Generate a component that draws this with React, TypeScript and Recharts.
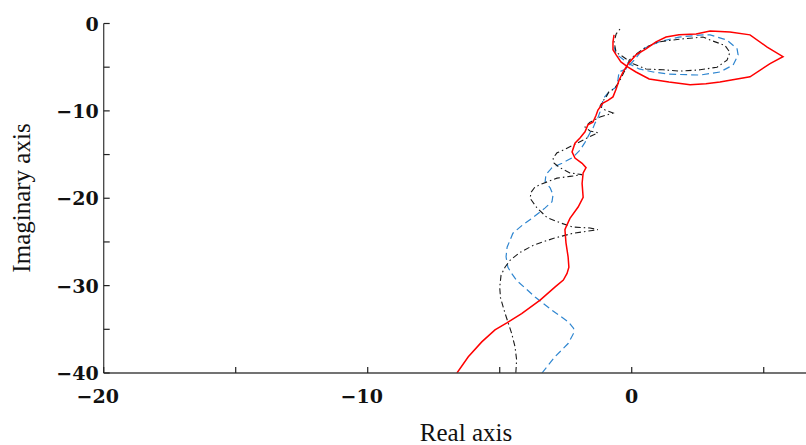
import React from "react";
import { ComposedChart, Line, XAxis, YAxis, Label } from "recharts";

const redReal = [
  -6.62, -6.19, -5.68, -5.18, -4.73, -4.17, -3.47, -2.9, -2.59, -2.45, -2.38, -2.41, -2.49, -2.53, -2.49,
  -2.34, -2.03, -1.84, -1.88, -1.84, -1.73, -1.88, -2.15, -2.26, -2.15, -1.96, -1.77, -1.66, -1.47, -1.35,
  -1.28, -1.09, -0.9, -0.71, -0.59, -0.48, -0.33, -0.14, 0.16, 0.54, 0.92, 1.3, 1.79, 2.44, 2.97, 3.72, 4.48,
  5.13, 5.73, 5.24, 4.48, 3.34, 2.81, 2.21, 1.41, 0.66, 0.16, -0.14, -0.41, -0.59, -0.71, -0.71, -0.67,
];
const redImag = [
  -40, -38.15, -36.44, -35.06, -34.26, -33.2, -31.66, -30.14, -29.37, -28.6, -27.9, -26.7, -25.1, -23.6,
  -23.3, -22.3, -21.0, -19.9, -18.3, -17.1, -16.5, -16.0, -15.4, -14.7, -13.7, -13.1, -12.4, -11.6, -11.3,
  -10.5, -9.9, -9.1, -8.8, -8.4, -7.5, -6.5, -5.55, -4.64, -3.6, -2.9, -2.1, -1.55, -1.3, -1.2, -0.86, -0.97,
  -1.3, -2.7, -3.8, -4.6, -6.1, -6.7, -6.9, -7.0, -6.7, -6.35, -5.55, -5.0, -4.4, -3.6, -3.0, -2.1, -1.3,
];

const blueReal = [
  -3.4, -2.91, -2.4, -2.21, -2.2, -2.4, -3.03, -3.66, -4.36, -4.55, -4.69, -4.76, -4.72, -4.5, -4.15, -3.74,
  -3.28, -3.02, -2.98, -3.09, -3.28, -3.25, -3.02, -2.64, -2.22, -1.96, -1.77, -1.58, -1.47, -1.39, -1.28,
  -1.2, -1.12, -1.09, -0.86, -0.59, -0.52, -0.48, -0.22, 0.09, 0.43, 1.03, 1.79, 2.7, 2.97, 3.61, 3.99, 4.03,
  3.84, 3.34, 2.59, 1.41, 0.81, 0.28, -0.1, -0.33, -0.59, -0.67,
];
const blueImag = [
  -40, -38.15, -36.6, -35.5, -34.9, -34.15, -32.8, -31.3, -29.4, -28.6, -27.9, -26.7, -25.6, -24.0, -23.1,
  -22.2, -21.1, -20.4, -19.6, -18.8, -18.1, -17.3, -16.5, -16.0, -15.3, -14.5, -13.6, -12.5, -12.0, -11.4,
  -10.8, -10.1, -9.3, -8.65, -7.8, -7.3, -6.4, -5.55, -5.2, -4.2, -2.9, -2.1, -1.55, -1.3, -1.3, -1.9, -2.9,
  -3.6, -4.75, -5.55, -5.9, -5.8, -5.55, -5.2, -4.6, -4.1, -3.5, -2.7,
];

const blackReal = [
  -4.39, -4.36, -4.42, -4.55, -4.8, -4.97, -5.0, -4.95, -4.8, -4.61, -4.23, -3.74, -2.98, -2.22, -1.28,
  -1.58, -2.22, -2.72, -3.21, -3.59, -3.85, -3.81, -3.66, -3.36, -2.83, -2.34, -1.88, -2.34, -2.72, -2.94,
  -2.98, -2.83, -2.53, -2.07, -1.69, -1.28, -1.58, -1.77, -1.58, -1.2, -0.71, -1.01, -1.2, -1.12, -0.97,
  -0.86, -0.67, -0.48, -0.29, -0.14, -0.1, 0.16, 0.54, 1.03, 1.79, 2.7, 2.97, 3.53, 3.72, 3.61, 3.23, 2.59,
  1.83, 1.19, 0.54, 0.05, -0.33, -0.59, -0.67, -0.59, -0.41,
];
const blackImag = [
  -40, -38.5, -37.0, -35.44, -33.15, -31.4, -30.2, -28.8, -27.9, -27.1, -26.2, -25.4, -24.6, -24.0, -23.6,
  -23.4, -23.3, -22.8, -22.2, -21.1, -20.0, -19.3, -18.7, -18.3, -17.7, -17.5, -17.3, -17.1, -16.5, -16.0,
  -15.4, -14.8, -14.4, -13.7, -13.1, -12.5, -12.3, -11.85, -11.3, -10.7, -10.25, -9.9, -9.45, -9.0, -8.4,
  -7.8, -7.5, -6.7, -5.55, -4.75, -4.2, -3.5, -2.7, -2.1, -1.8, -1.55, -1.9, -2.5, -3.3, -4.2, -5.0, -5.3,
  -5.45, -5.3, -5.2, -4.6, -3.8, -3.3, -2.1, -1.2, -0.5,
];

const xTicks = [-20, -15, -10, -5, 0, 5];
const yTicks = [-40, -35, -30, -25, -20, -15, -10, -5, 0];

const toPoints = (re: number[], im: number[]) => re.map((x, i) => ({ x, y: im[i] }));

const fmt = (v: number) => (v < 0 ? "\u2212" + Math.abs(v) : String(v));
const tickFont = { fontFamily: "DejaVu Serif", fontSize: 19, fontWeight: 700, fill: "#111" };

// no scrollbars: the figure is sized to the window
if (typeof document !== "undefined") {
  document.documentElement.style.overflow = "hidden";
  document.body.style.overflow = "hidden";
  document.body.style.margin = "0";
}

const BottomTick = (props: any) => {
  const { x, y, payload } = props;
  const v = payload.value as number;
  return (
    <g>
      <line x1={x} y1={y} x2={x} y2={y - 6} stroke="#222" strokeWidth={1.2} />
      {v % 10 === 0 && (
        <text x={x + (v < 0 ? -6 : 0)} y={y + 30} textAnchor="middle" {...tickFont}>
          {fmt(v)}
        </text>
      )}
    </g>
  );
};

const TopTick = (props: any) => {
  const { x, y } = props;
  return <line x1={x} y1={y} x2={x} y2={y + 6} stroke="#222" strokeWidth={1.2} />;
};

const LeftTick = (props: any) => {
  const { x, y, payload } = props;
  const v = payload.value as number;
  return (
    <g>
      <line x1={x} y1={y} x2={x + 6} y2={y} stroke="#222" strokeWidth={1.2} />
      {v % 10 === 0 && (
        <text x={x - 5} y={y + 7} textAnchor="end" {...tickFont}>
          {fmt(v)}
        </text>
      )}
    </g>
  );
};

export default function App() {
  const red = toPoints(redReal, redImag);
  const blue = toPoints(blueReal, blueImag);
  const black = toPoints(blackReal, blackImag);
  const axisLine = { stroke: "#444", strokeWidth: 1.3 };
  const titleFont = { fontFamily: "Liberation Serif", fontSize: 25, fill: "#111" };
  // the original figure is cropped on the right, so the plot runs past the window edge
  const xDomain: [number, number] = [-20, 7.51];

  return (
    <div style={{ position: "fixed", top: 0, left: 0, width: 806, height: 445, overflow: "hidden", background: "#fff" }}>
      <ComposedChart width={830} height={445} margin={{ top: 23.5, right: 0, bottom: 32, left: 0 }}>
        <XAxis
          xAxisId="b"
          dataKey="x"
          type="number"
          domain={xDomain}
          allowDataOverflow
          ticks={xTicks}
          interval={0}
          height={40}
          tickSize={0}
          tickMargin={0}
          tickLine={false}
          axisLine={axisLine}
          tick={BottomTick}
        >
          <Label
            content={() => (
              <text x={466} y={441} textAnchor="middle" {...titleFont}>
                Real axis
              </text>
            )}
          />
        </XAxis>
        <XAxis
          xAxisId="t"
          orientation="top"
          dataKey="x"
          type="number"
          domain={xDomain}
          allowDataOverflow
          ticks={xTicks}
          interval={0}
          height={0}
          tickSize={0}
          tickMargin={0}
          tickLine={false}
          axisLine={axisLine}
          tick={TopTick}
        />
        <YAxis
          type="number"
          dataKey="y"
          domain={[-40, 0]}
          allowDataOverflow
          ticks={yTicks}
          interval={0}
          width={103.7}
          tickSize={0}
          tickMargin={0}
          tickLine={false}
          axisLine={axisLine}
          tick={LeftTick}
        >
          <Label
            content={() => (
              <text x={29.5} y={198} transform="rotate(-90 29.5 198)" textAnchor="middle" {...titleFont}>
                Imaginary axis
              </text>
            )}
          />
        </YAxis>
        <Line
          xAxisId="b"
          data={blue}
          dataKey="y"
          type="linear"
          stroke="#2f86d0"
          strokeWidth={1.2}
          strokeDasharray="7 4"
          dot={false}
          isAnimationActive={false}
        />
        <Line
          xAxisId="b"
          data={black}
          dataKey="y"
          type="linear"
          stroke="#1a1a1a"
          strokeWidth={1.1}
          strokeDasharray="6 3 1.5 3"
          dot={false}
          isAnimationActive={false}
        />
        <Line
          xAxisId="b"
          data={red}
          dataKey="y"
          type="linear"
          stroke="#ff0000"
          strokeWidth={1.5}
          dot={false}
          isAnimationActive={false}
        />
      </ComposedChart>
    </div>
  );
}
